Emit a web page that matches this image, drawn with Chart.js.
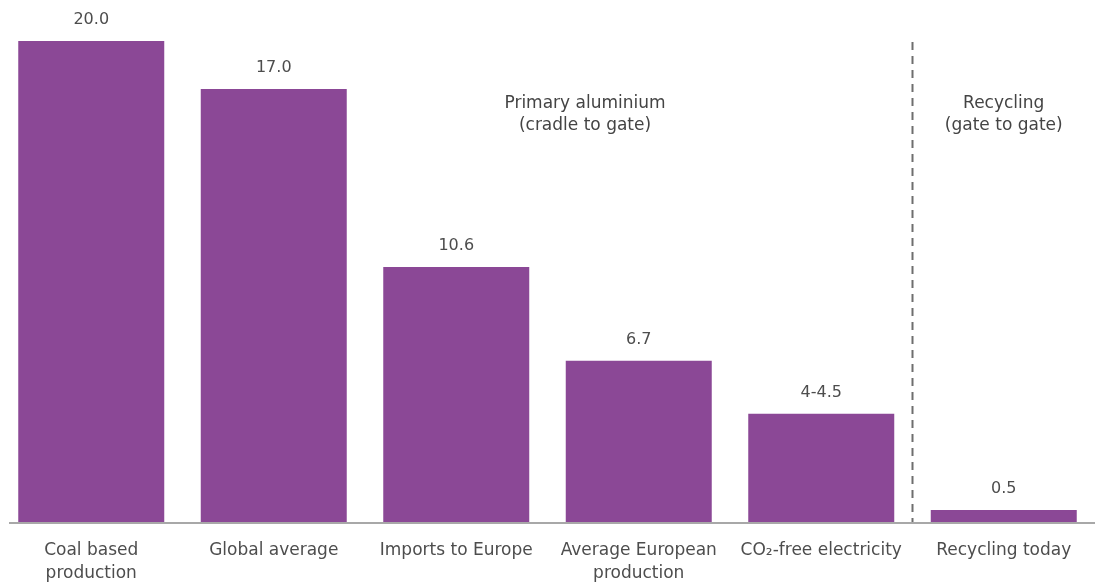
<!DOCTYPE html>
<html>
<head>
<meta charset="utf-8">
<script src="https://cdn.jsdelivr.net/npm/chart.js@4"></script>
<style>
  body { margin: 0; background: #fff; }
  #wrap { width: 1095px; height: 585px; position: relative; }
</style>
</head>
<body>
<div id="wrap"><canvas id="chart"></canvas></div>
<script>
const categories = [
  ["Coal based", "production"],
  "Global average",
  "Imports to Europe",
  ["Average European", "production"],
  "CO\u2082-free electricity",
  "Recycling today"
];
// bar heights as drawn in the picture
const values = [20.0, 18.0, 10.6, 6.7, 4.5, 0.5];
const valueLabels = ["20.0", "17.0", "10.6", "6.7", "4-4.5", "0.5"];
const groupLabels = [
  { text: ["Primary aluminium", "(cradle to gate)"], x: 585 },
  { text: ["Recycling", "(gate to gate)"], from: 5 }
];

const purple = "#8b4896";
const textGray = "#4d4d4d";
const font = "'DejaVu Sans', sans-serif";

const extras = {
  id: "extras",
  afterDatasetsDraw(chart) {
    const ctx = chart.ctx;
    const xs = chart.scales.x;
    const area = chart.chartArea;
    const meta = chart.getDatasetMeta(0);

    // baseline
    ctx.save();
    ctx.strokeStyle = "#a8a8a8";
    ctx.lineWidth = 2;
    ctx.beginPath();
    ctx.moveTo(9, area.bottom + 1);
    ctx.lineTo(chart.width, area.bottom + 1);
    ctx.stroke();

    // dashed separator between primary and recycling
    const sepX = (xs.getPixelForValue(4) + xs.getPixelForValue(5)) / 2;
    ctx.strokeStyle = "#6e6e6e";
    ctx.lineWidth = 2;
    ctx.setLineDash([8, 6]);
    ctx.beginPath();
    ctx.moveTo(sepX, 42);
    ctx.lineTo(sepX, area.bottom);
    ctx.stroke();
    ctx.setLineDash([]);

    // value labels
    ctx.fillStyle = textGray;
    ctx.font = "16px " + font;
    ctx.textAlign = "center";
    ctx.textBaseline = "alphabetic";
    meta.data.forEach((bar, i) => {
      ctx.fillText(valueLabels[i], bar.x, bar.y - 17);
    });

    // group labels
    ctx.font = "17px " + font;
    ctx.fillStyle = "#444";
    groupLabels.forEach(g => {
      const x = g.from !== undefined ? xs.getPixelForValue(g.from) : g.x;
      g.text.forEach((t, j) => {
        ctx.fillText(t, x, 108 + j * 22);
      });
    });
    ctx.restore();
  }
};

new Chart(document.getElementById("chart"), {
  type: "bar",
  data: {
    labels: categories,
    datasets: [{
      data: values,
      backgroundColor: purple,
      borderWidth: 0,
      barPercentage: 0.8,
      categoryPercentage: 1.0
    }]
  },
  options: {
    responsive: true,
    maintainAspectRatio: false,
    animation: false,
    layout: { padding: 0 },
    plugins: {
      legend: { display: false },
      tooltip: { enabled: false }
    },
    scales: {
      x: {
        grid: { display: false, drawTicks: false },
        border: { display: false },
        afterFit(scale) { scale.height = 63; },
        ticks: {
          color: textGray,
          font: { family: font, size: 17, lineHeight: 1.35 },
          padding: 17,
          maxRotation: 0,
          autoSkip: false
        }
      },
      y: {
        display: false,
        min: 0,
        max: 21.7
      }
    }
  },
  plugins: [extras]
});
</script>
</body>
</html>
